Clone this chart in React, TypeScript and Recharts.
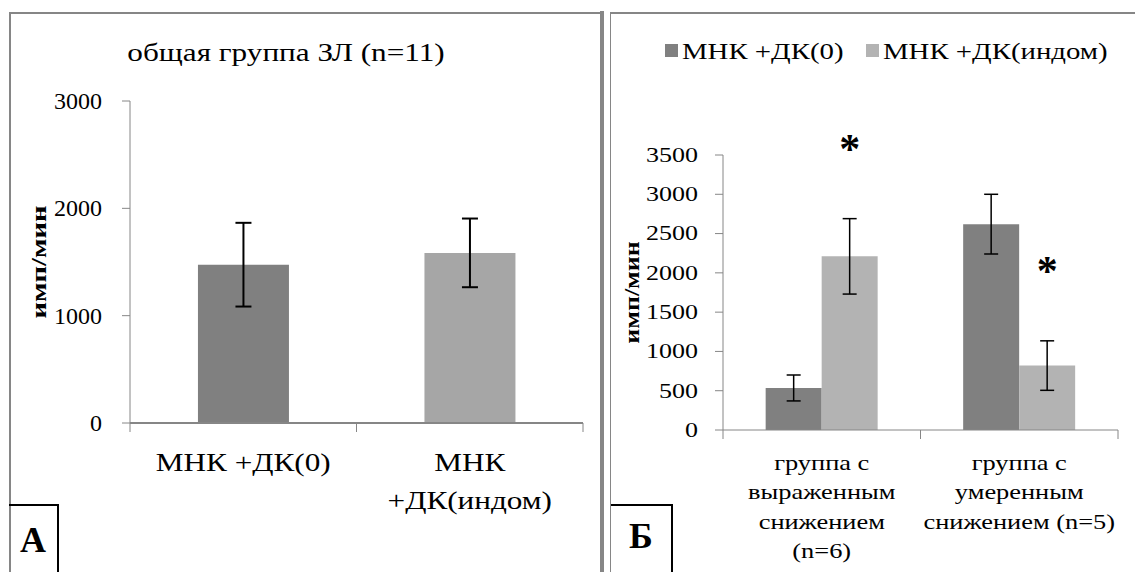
import React from 'react';
import { BarChart, Bar, XAxis, YAxis, ErrorBar, Cell, LabelList } from 'recharts';

const FONT = '"Liberation Serif", "Times New Roman", Times, serif';
const AXIS_GRAY = '#868686';

// ---- Panel A data ----
const titleA = 'общая группа ЗЛ (n=11)';
const categoriesA = ['МНК +ДК(0)', 'МНК +ДК(индом)'];
const labelLinesA = [['МНК +ДК(0)'], ['МНК', '+ДК(индом)']];
const valuesA = [1475, 1585];
const errorsA = [390, 320];
const colorsA = ['#808080', '#a6a6a6'];
const ticksA = [0, 1000, 2000, 3000];

// ---- Panel B data ----
const seriesNamesB = ['МНК +ДК(0)', 'МНК +ДК(индом)'];
const categoriesB = ['группа с выраженным снижением (n=6)', 'группа с умеренным снижением (n=5)'];
const labelLinesB = [
  ['группа с', 'выраженным', 'снижением', '(n=6)'],
  ['группа с', 'умеренным', 'снижением (n=5)'],
];
const valuesB0 = [535, 2620];
const errorsB0 = [165, 380];
const valuesBI = [2210, 820];
const errorsBI = [480, 315];
const starsBI = ['*', '*'];
const colorsB = ['#808080', '#b3b3b3'];
const ticksB = [0, 500, 1000, 1500, 2000, 2500, 3000, 3500];

const yLabel = 'имп/мин';
const panelLetters = ['А', 'Б'];

const dataA = categoriesA.map((name, i) => ({ name, value: valuesA[i], err: errorsA[i] }));
const dataB = categoriesB.map((name, i) => ({
  name,
  v0: valuesB0[i],
  e0: errorsB0[i],
  vi: valuesBI[i],
  ei: errorsBI[i],
  star: starsBI[i],
}));

type STextProps = {
  x: number;
  y: number;
  fs: number;
  sx?: number;
  weight?: string;
  anchor?: 'start' | 'middle' | 'end';
  rotate?: number;
  children: React.ReactNode;
};

const SText = ({ x, y, fs, sx = 1, weight = 'normal', anchor = 'middle', rotate = 0, children }: STextProps) => (
  <text
    transform={`translate(${x},${y}) rotate(${rotate}) scale(${sx},1)`}
    x={0}
    y={0}
    textAnchor={anchor}
    dominantBaseline="central"
    fontSize={fs}
    fontFamily={FONT}
    fontWeight={weight}
    fill="#000"
  >
    {children}
  </text>
);

function makeXTick(lines: string[][], fs: number, sx: number, first: number, gap: number) {
  return (p: any) => {
    const { x, y, index, payload, visibleTicksCount, width } = p;
    const count = visibleTicksCount || lines.length;
    const half = payload && payload.offset ? payload.offset : (width || 0) / count / 2;
    const ls = lines[index] || [String(payload.value)];
    return (
      <g>
        <line x1={x - half} x2={x - half} y1={y} y2={y + 9} stroke={AXIS_GRAY} strokeWidth={1} />
        {index === count - 1 && (
          <line x1={x + half} x2={x + half} y1={y} y2={y + 9} stroke={AXIS_GRAY} strokeWidth={1} />
        )}
        {ls.map((t, k) => (
          <SText key={k} x={x} y={y + first + k * gap} fs={fs} sx={sx}>
            {t}
          </SText>
        ))}
      </g>
    );
  };
}

function makeYTick(fs: number, sx: number) {
  return (p: any) => (
    <SText x={p.x} y={p.y} fs={fs} sx={sx} anchor="end">
      {p.payload.value}
    </SText>
  );
}

function makeYLabel(dx: number, fs: number, sx: number) {
  return (p: any) => {
    const vb = p.viewBox || { x: 0, y: 0, width: 0, height: 0 };
    return (
      <SText x={vb.x + dx} y={vb.y + vb.height / 2} fs={fs} sx={sx} weight="bold" rotate={-90}>
        {yLabel}
      </SText>
    );
  };
}

const renderStar = (p: any) => {
  const { x, y, width, height, index } = p;
  const v = valuesBI[index];
  const e = errorsBI[index];
  const errTop = y - (e * height) / v;
  const cy = errTop - 76;
  const fs = 42;
  return (
    <text
      x={x + width / 2}
      y={cy + 0.48 * fs}
      textAnchor="middle"
      fontSize={fs}
      fontWeight="bold"
      fontFamily={FONT}
      fill="#000"
    >
      {starsBI[index]}
    </text>
  );
};

const HText = ({ cx, cy, fs, sx = 1, left, weight = 'normal', children }: any) => (
  <div
    style={{
      position: 'absolute',
      left: left !== undefined ? left : cx,
      top: cy,
      fontFamily: FONT,
      fontSize: fs,
      lineHeight: 1,
      whiteSpace: 'nowrap',
      fontWeight: weight as any,
      color: '#000',
      transform: left !== undefined ? `translate(0,-50%) scaleX(${sx})` : `translate(-50%,-50%) scaleX(${sx})`,
      transformOrigin: left !== undefined ? 'left center' : 'center center',
    }}
  >
    {children}
  </div>
);

const legendLeft = [665, 866];

export default function App() {
  return (
    <div
      style={{
        position: 'absolute',
        left: 0,
        top: 0,
        width: 1135,
        height: 572,
        background: '#fff',
        overflow: 'hidden',
      }}
    >
      {/* frames */}
      <div
        style={{
          position: 'absolute',
          left: 9,
          top: 12,
          width: 591,
          height: 560,
          borderLeft: `2px solid ${AXIS_GRAY}`,
          borderTop: `2px solid ${AXIS_GRAY}`,
          boxSizing: 'border-box',
        }}
      />
      <div style={{ position: 'absolute', left: 600, top: 11, width: 4, height: 561, background: AXIS_GRAY }} />
      <div
        style={{
          position: 'absolute',
          left: 610,
          top: 12,
          width: 525,
          height: 560,
          borderLeft: `1px solid ${AXIS_GRAY}`,
          borderTop: `2px solid ${AXIS_GRAY}`,
          boxSizing: 'border-box',
        }}
      />

      {/* Panel A */}
      <HText cx={286} cy={53} fs={26} sx={1.2}>
        {titleA}
      </HText>
      <div style={{ position: 'absolute', left: 0, top: 0 }}>
        <BarChart
          width={595}
          height={572}
          data={dataA}
          margin={{ top: 101, right: 12, bottom: 109, left: 70 }}
          barCategoryGap="30%"
        >
          <XAxis
            dataKey="name"
            height={40}
            tickLine={false}
            tickSize={0}
            tickMargin={0}
            axisLine={{ stroke: AXIS_GRAY, strokeWidth: 2 }}
            interval={0}
            tick={makeXTick(labelLinesA, 26, 1.2, 39, 38)}
          />
          <YAxis
            width={60}
            domain={[0, 3000]}
            ticks={ticksA}
            tickSize={8}
            tickMargin={20}
            axisLine={{ stroke: AXIS_GRAY }}
            tickLine={{ stroke: AXIS_GRAY }}
            tick={makeYTick(24, 1)}
            label={makeYLabel(-31, 22, 1.3)}
          />
          <Bar dataKey="value" isAnimationActive={false}>
            {dataA.map((d, i) => (
              <Cell key={d.name} fill={colorsA[i]} />
            ))}
            <ErrorBar dataKey="err" width={8} stroke="#000" strokeWidth={2} isAnimationActive={false} />
          </Bar>
        </BarChart>
      </div>

      {/* Panel B legend */}
      {seriesNamesB.map((n, i) => (
        <React.Fragment key={n}>
          <div
            style={{
              position: 'absolute',
              left: legendLeft[i],
              top: 44,
              width: 13,
              height: 13,
              background: colorsB[i],
            }}
          />
          <HText left={legendLeft[i] + 17} cy={51} fs={24} sx={1.2}>
            {n}
          </HText>
        </React.Fragment>
      ))}

      {/* Panel B */}
      <div style={{ position: 'absolute', left: 610, top: 0 }}>
        <BarChart
          width={525}
          height={572}
          data={dataB}
          margin={{ top: 155, right: 17, bottom: 102, left: 53 }}
          barCategoryGap="21.6%"
          barGap={0}
        >
          <XAxis
            dataKey="name"
            height={40}
            tickLine={false}
            tickSize={0}
            tickMargin={0}
            axisLine={{ stroke: AXIS_GRAY }}
            interval={0}
            tick={makeXTick(labelLinesB, 22, 1.2, 32, 29.5)}
          />
          <YAxis
            width={60}
            domain={[0, 3500]}
            ticks={ticksB}
            tickSize={8}
            tickMargin={17}
            axisLine={{ stroke: AXIS_GRAY }}
            tickLine={{ stroke: AXIS_GRAY }}
            tick={makeYTick(20, 1.3)}
            label={makeYLabel(-31, 20, 1.3)}
          />
          <Bar dataKey="v0" name={seriesNamesB[0]} fill={colorsB[0]} isAnimationActive={false}>
            <ErrorBar dataKey="e0" width={7} stroke="#000" strokeWidth={1.5} isAnimationActive={false} />
          </Bar>
          <Bar dataKey="vi" name={seriesNamesB[1]} fill={colorsB[1]} isAnimationActive={false}>
            <ErrorBar dataKey="ei" width={7} stroke="#000" strokeWidth={1.5} isAnimationActive={false} />
            <LabelList dataKey="star" content={renderStar} />
          </Bar>
        </BarChart>
      </div>

      {/* panel letter boxes */}
      <div
        style={{
          position: 'absolute',
          left: 9,
          top: 504,
          width: 50,
          height: 70,
          borderTop: '2px solid #000',
          borderRight: '2px solid #000',
          boxSizing: 'border-box',
        }}
      />
      <HText cx={33} cy={540} fs={36} weight="bold">
        {panelLetters[0]}
      </HText>
      <div
        style={{
          position: 'absolute',
          left: 611,
          top: 504,
          width: 62,
          height: 70,
          borderTop: '2px solid #000',
          borderRight: '2px solid #000',
          boxSizing: 'border-box',
        }}
      />
      <HText cx={641} cy={536} fs={36} weight="bold">
        {panelLetters[1]}
      </HText>
    </div>
  );
}
